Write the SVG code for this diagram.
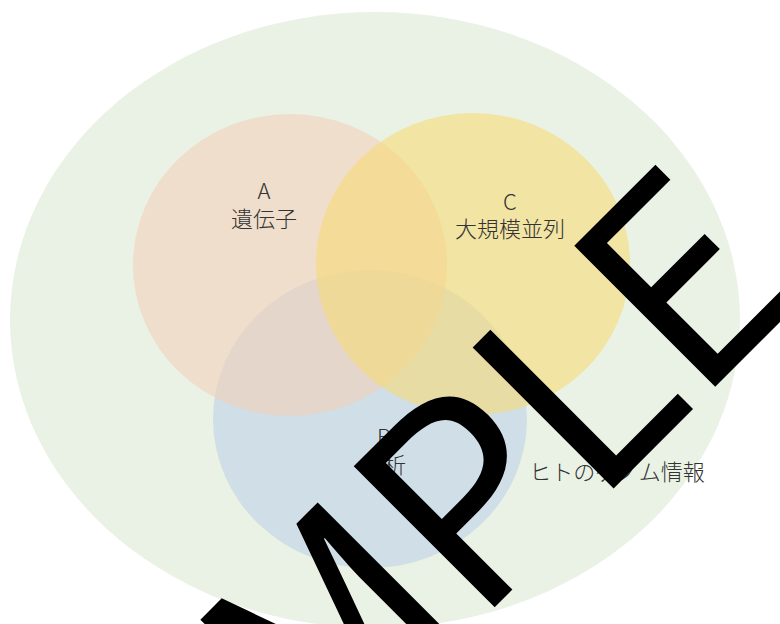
<svg xmlns="http://www.w3.org/2000/svg" width="780" height="624" viewBox="0 0 780 624">
<style>
.set{opacity:0.6}
.lbl{font-family:"Noto Sans CJK JP","Noto Sans",sans-serif;font-size:22px;font-weight:300;fill:#333333;text-anchor:middle}
.wm{font-family:"Noto Sans CJK JP","Noto Sans",sans-serif;font-size:272px;letter-spacing:-4px;fill:#000}
</style>
<rect width="780" height="624" fill="#ffffff"/>
<g id="universe">
<ellipse cx="375" cy="320" rx="365" ry="308" fill="#eaf2e5"/>
<text class="lbl" x="617" y="480">ヒトのゲノム情報</text>
</g>
<g id="setB">
<ellipse class="set" cx="370" cy="419" rx="157" ry="149" fill="#bdd0e7"/>
</g>
<g id="setA">
<ellipse class="set" cx="290" cy="265" rx="157" ry="151" fill="#f2d0b9"/>
</g>
<g id="setC">
<ellipse class="set" cx="473" cy="264" rx="157" ry="151" fill="#f7db76"/>
</g>
<g id="labels">
<text class="lbl" x="264" y="199">A</text>
<text class="lbl" x="264" y="227">遺伝子</text>
<text class="lbl" x="510" y="210">C</text>
<text class="lbl" x="510" y="237">大規模並列</text>
<text class="lbl" x="384" y="445">B</text>
<text class="lbl" x="384" y="473">解析</text>
</g>
<g id="connectors"></g>
<text class="wm" transform="translate(96,1006) rotate(-45)">SAMPLE</text>
</svg>
